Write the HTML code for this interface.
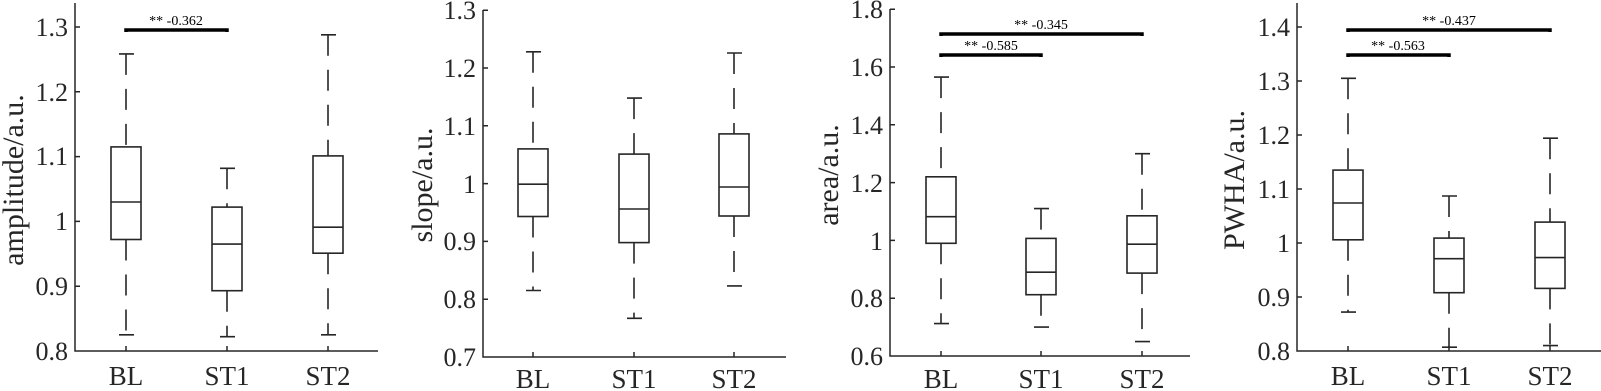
<!DOCTYPE html>
<html><head><style>
body{margin:0;background:#fff}
svg{display:block}
text{font-family:"Liberation Serif",serif;fill:#262626}
.ax{stroke:#262626;stroke-width:1.5;fill:none}
.b{stroke:#262626;stroke-width:1.6;fill:none}
.w{stroke:#262626;stroke-width:1.6;stroke-dasharray:21 14;fill:none}
.s{stroke:#000;stroke-width:3.5;fill:none}
.t{font-size:26px;text-anchor:end}
.x{font-size:27px;text-anchor:middle}
.yl{font-size:30px;text-anchor:middle}
.sg{font-size:14px;text-anchor:middle;fill:#000}
</style></head><body>
<svg width="1601" height="391" viewBox="0 0 1601 391" xmlns="http://www.w3.org/2000/svg">
<!-- Panel 1 -->
<g>
<path class="ax" d="M75 3V351H378"/>
<path class="ax" d="M75 286.2h5M75 221.4h5M75 156.6h5M75 91.8h5M75 27h5M126 351v-5M227 351v-5M328 351v-5"/>
<text class="t" x="68" y="360">0.8</text><text class="t" x="68" y="295">0.9</text><text class="t" x="68" y="230">1</text><text class="t" x="68" y="165">1.1</text><text class="t" x="68" y="101">1.2</text><text class="t" x="68" y="36">1.3</text>
<text class="x" x="126" y="385">BL</text><text class="x" x="227" y="385">ST1</text><text class="x" x="328" y="385">ST2</text>
<text class="yl" transform="translate(23,180) rotate(-90)">amplitude/a.u.</text>
<path class="w" d="M126 53.9V146.9M126 239.5V334.8M227 168.3V207.1M227 290.7V336.7M328 34.8V155.9M328 253.2V334.8"/>
<path class="b" d="M119 53.9h15M119 334.8h15M220 168.3h15M220 336.7h15M321 34.8h15M321 334.8h15"/>
<rect class="b" x="111" y="146.9" width="30" height="92.6"/><path class="b" d="M111 202h30"/>
<rect class="b" x="212" y="207.1" width="30" height="83.6"/><path class="b" d="M212 244.1h30"/>
<rect class="b" x="313" y="155.9" width="30" height="97.3"/><path class="b" d="M313 227.2h30"/>
<path class="s" d="M126 32V30H227V32"/><text class="sg" x="176" y="25">** -0.362</text>
</g>
<!-- Panel 2 -->
<g>
<path class="ax" d="M483 10V357H786"/>
<path class="ax" d="M483 299.2h5M483 241.4h5M483 183.6h5M483 125.8h5M483 68h5M483 10.2h5M533 357v-5M634 357v-5M734 357v-5"/>
<text class="t" x="476" y="366">0.7</text><text class="t" x="476" y="308">0.8</text><text class="t" x="476" y="250">0.9</text><text class="t" x="476" y="193">1</text><text class="t" x="476" y="135">1.1</text><text class="t" x="476" y="77">1.2</text><text class="t" x="476" y="19">1.3</text>
<text class="x" x="533" y="388">BL</text><text class="x" x="634" y="388">ST1</text><text class="x" x="734" y="388">ST2</text>
<text class="yl" transform="translate(432,185) rotate(-90)">slope/a.u.</text>
<path class="w" d="M533 51.8V148.9M533 216.5V290.5M634 98.1V154.1M634 242.6V318.3M734 53V133.9M734 216V285.9"/>
<path class="b" d="M526 51.8h15M526 290.5h15M627 98.1h15M627 318.3h15M727 53h15M727 285.9h15"/>
<rect class="b" x="518" y="148.9" width="30" height="67.6"/><path class="b" d="M518 184.2h30"/>
<rect class="b" x="619" y="154.1" width="30" height="88.5"/><path class="b" d="M619 209h30"/>
<rect class="b" x="719" y="133.9" width="30" height="82.1"/><path class="b" d="M719 187h30"/>
</g>
<!-- Panel 3 -->
<g>
<path class="ax" d="M890 9V356H1190"/>
<path class="ax" d="M890 298.2h5M890 240.4h5M890 182.6h5M890 124.8h5M890 67h5M890 9.2h5M941 356v-5M1041 356v-5M1142 356v-5"/>
<text class="t" x="883" y="365">0.6</text><text class="t" x="883" y="307">0.8</text><text class="t" x="883" y="250">1</text><text class="t" x="883" y="192">1.2</text><text class="t" x="883" y="134">1.4</text><text class="t" x="883" y="76">1.6</text><text class="t" x="883" y="18">1.8</text>
<text class="x" x="941" y="388">BL</text><text class="x" x="1041" y="388">ST1</text><text class="x" x="1142" y="388">ST2</text>
<text class="yl" transform="translate(838,175) rotate(-90)">area/a.u.</text>
<path class="w" d="M941 77.1V176.8M941 243.3V323.6M1041 208.6V238.4M1041 294.7V327.1M1142 153.7V215.8M1142 273.1V341.6"/>
<path class="b" d="M934 77.1h15M934 323.6h15M1034 208.6h15M1034 327.1h15M1135 153.7h15M1135 341.6h15"/>
<rect class="b" x="926" y="176.8" width="30" height="66.5"/><path class="b" d="M926 216.7h30"/>
<rect class="b" x="1026" y="238.4" width="30" height="56.3"/><path class="b" d="M1026 272.2h30"/>
<rect class="b" x="1127" y="215.8" width="30" height="57.3"/><path class="b" d="M1127 244.2h30"/>
<path class="s" d="M941 57V55H1041V57"/><text class="sg" x="991" y="50">** -0.585</text>
<path class="s" d="M941 36V34H1142V36"/><text class="sg" x="1041" y="29">** -0.345</text>
</g>
<!-- Panel 4 -->
<g>
<path class="ax" d="M1297 3V351H1601"/>
<path class="ax" d="M1297 297h5M1297 243h5M1297 189h5M1297 135h5M1297 81h5M1297 27h5M1348 351v-5M1449 351v-5M1550 351v-5"/>
<text class="t" x="1290" y="360">0.8</text><text class="t" x="1290" y="306">0.9</text><text class="t" x="1290" y="252">1</text><text class="t" x="1290" y="198">1.1</text><text class="t" x="1290" y="144">1.2</text><text class="t" x="1290" y="90">1.3</text><text class="t" x="1290" y="36">1.4</text>
<text class="x" x="1348" y="385">BL</text><text class="x" x="1449" y="385">ST1</text><text class="x" x="1550" y="385">ST2</text>
<text class="yl" transform="translate(1244,180) rotate(-90)">PWHA/a.u.</text>
<path class="w" d="M1348 78.3V170.1M1348 239.8V312.1M1449 196V238.1M1449 292.7V347.2M1550 138.2V222.1M1550 288.4V345.6"/>
<path class="b" d="M1341 78.3h15M1341 312.1h15M1442 196h15M1442 347.2h15M1543 138.2h15M1543 345.6h15"/>
<rect class="b" x="1333" y="170.1" width="30" height="69.7"/><path class="b" d="M1333 203h30"/>
<rect class="b" x="1434" y="238.1" width="30" height="54.6"/><path class="b" d="M1434 258.7h30"/>
<rect class="b" x="1535" y="222.1" width="30" height="66.3"/><path class="b" d="M1535 257.6h30"/>
<path class="s" d="M1348 57V55H1449V57"/><text class="sg" x="1398" y="50">** -0.563</text>
<path class="s" d="M1348 32V30H1550V32"/><text class="sg" x="1449" y="25">** -0.437</text>
</g>
</svg>
</body></html>
